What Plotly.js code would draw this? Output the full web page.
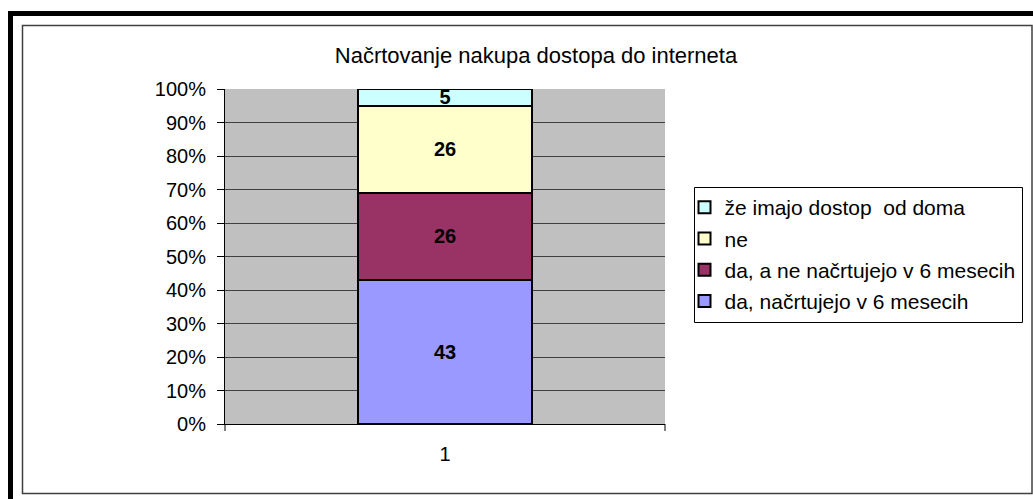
<!DOCTYPE html>
<html>
<head>
<meta charset="utf-8">
<script src="https://cdn.plot.ly/plotly-3.0.1.min.js"></script>
<style>html,body{margin:0;padding:0;background:#fff;}#chart{width:1033px;height:499px;}</style>
</head>
<body>
<div id="chart"></div>
<script>
const categories = ["1"];
const seriesNames = ["da, načrtujejo v 6 mesecih", "da, a ne načrtujejo v 6 mesecih", "ne", "že imajo dostop  od doma"];
const seriesValues = [[43], [26], [26], [5]];
const seriesColors = ["#9999ff", "#993366", "#ffffcc", "#ccffff"];
const yTickVals = [0, 10, 20, 30, 40, 50, 60, 70, 80, 90, 100];
const yTickText = ["0%", "10%", "20%", "30%", "40%", "50%", "60%", "70%", "80%", "90%", "100%"];
const chartTitle = "Načrtovanje nakupa dostopa do interneta";

const W = 1033, H = 499;
const L = 225, R = 665, T = 89, B = 424;
const px = x => (x - L) / (R - L);
const py = y => (B - y) / (B - T);
const FONT = "Liberation Sans, Arial, sans-serif";

const traces = seriesNames.map((name, i) => ({
  type: "bar",
  name: name,
  x: categories,
  y: seriesValues[i],
  text: seriesValues[i].map(String),
  textposition: "inside",
  insidetextanchor: "middle",
  textangle: 0,
  constraintext: "none",
  textfont: {family: FONT, size: 20, color: "#000", weight: "bold"},
  width: 0.3955,
  marker: {color: seriesColors[i], line: {color: "#000", width: 2}},
  legendgroup: "g" + i,
  legendrank: seriesNames.length - i,
  hoverinfo: "name+y"
}));

const shapes = [
  {type: "rect", xref: "paper", yref: "paper", x0: px(10.5), x1: px(1045), y0: py(13.5), y1: py(510), line: {color: "#000", width: 5}, fillcolor: "rgba(0,0,0,0)", layer: "above"},
  {type: "rect", xref: "paper", yref: "paper", x0: px(22.5), x1: px(1032), y0: py(25.5), y1: py(493.5), line: {color: "#404040", width: 1.5}, fillcolor: "rgba(0,0,0,0)", layer: "above"},
  {type: "line", xref: "paper", yref: "paper", x0: 0, x1: 0, y0: 0, y1: py(431), line: {color: "#000", width: 1}},
  {type: "line", xref: "paper", yref: "paper", x0: 1, x1: 1, y0: 0, y1: py(431), line: {color: "#000", width: 1}},
  // legend frame
  {type: "rect", xref: "paper", yref: "paper", x0: px(694.5), x1: px(1022.5), y0: py(187.5), y1: py(322.5), line: {color: "#000", width: 1}, fillcolor: "#fff", layer: "below"}
];

const layout = {
  width: W, height: H,
  margin: {l: L, r: W - R, t: T, b: H - B, pad: 0},
  paper_bgcolor: "#fff",
  plot_bgcolor: "#c0c0c0",
  font: {family: FONT, size: 20, color: "#000"},
  title: {text: chartTitle, x: px(536), xref: "paper", xanchor: "center", y: 1 - 55 / H, yref: "container", yanchor: "middle", font: {family: FONT, size: 22, color: "#000"}},
  barmode: "stack",
  barnorm: "percent",
  bargap: 0,
  xaxis: {
    type: "category",
    range: [-0.5, 0.5], fixedrange: true,
    showgrid: false, zeroline: false,
    showline: true, linecolor: "#000", linewidth: 1,
    ticks: "", ticklabelstandoff: 12,
    tickfont: {family: FONT, size: 20, color: "#000"}
  },
  yaxis: {
    range: [0, 100], fixedrange: true,
    tickvals: yTickVals, ticktext: yTickText,
    ticks: "outside", ticklen: 7, tickcolor: "#000", tickwidth: 1,
    ticklabelstandoff: 7,
    showgrid: true, gridcolor: "#404040", gridwidth: 1,
    zeroline: false,
    showline: true, linecolor: "#000", linewidth: 1,
    tickfont: {family: FONT, size: 20, color: "#000"}
  },
  legend: {
    x: px(684.5), y: py(187), xref: "paper", yref: "paper",
    xanchor: "left", yanchor: "top",
    borderwidth: 0, bgcolor: "rgba(0,0,0,0)",
    traceorder: "grouped",
    tracegroupgap: 1,
    font: {family: FONT, size: 21, color: "#000"},
    itemwidth: 30
  },
  shapes: shapes,
  showlegend: true
};

Plotly.newPlot("chart", traces, layout, {displayModeBar: false, staticPlot: true});
</script>
</body>
</html>
